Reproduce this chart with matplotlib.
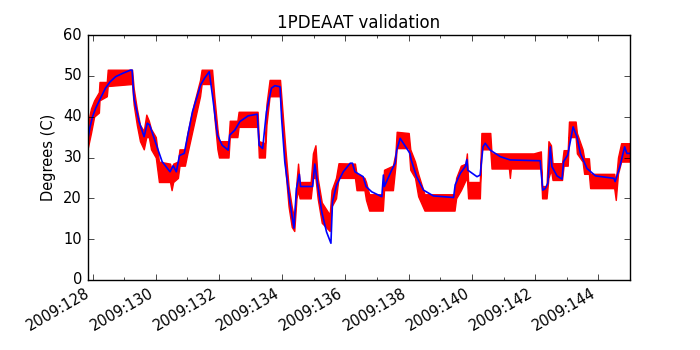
# Importing the libraries
import numpy as np
import matplotlib
matplotlib.use('Agg')
import matplotlib.pyplot as plt
from matplotlib.ticker import MultipleLocator, FuncFormatter

# Telemetry (red): envelope of the noisy data, day of year 2009
data_day = [127.84, 127.95, 128.05, 128.2, 128.22, 128.45, 128.48, 129.25, 129.3, 129.4,
            129.5, 129.62, 129.7, 129.78, 129.85, 130.0, 130.1, 130.45, 130.5, 130.55,
            130.7, 130.75, 130.92, 131.0, 131.2, 131.4, 131.45, 131.78, 131.85, 131.95,
            132.0, 132.3, 132.34, 132.58, 132.62, 133.22, 133.26, 133.45, 133.5, 133.6,
            133.93, 134.0, 134.1, 134.2, 134.3, 134.38, 134.45, 134.5, 134.55, 134.9,
            134.97, 135.05, 135.12, 135.25, 135.5, 135.56, 135.7, 135.78, 136.3, 136.35,
            136.6, 136.65, 136.75, 137.18, 137.22, 137.5, 137.58, 137.62, 138.0, 138.05,
            138.2, 138.3, 138.5, 139.45, 139.5, 139.65, 139.8, 139.84, 139.88, 140.25,
            140.3, 140.58, 140.62, 141.17, 141.2, 141.23, 141.95, 142.18, 142.22, 142.36,
            142.42, 142.5, 142.55, 142.85, 142.9, 143.03, 143.07, 143.28, 143.32, 143.5,
            143.55, 143.7, 143.74, 144.5, 144.55, 144.62, 144.72, 145.0]
data_lo = [32, 36, 40, 41, 44, 45, 47.5, 48, 43, 38,
           34, 32, 35, 35, 32, 30, 24, 24, 22, 24,
           25, 28, 28, 31, 38, 45, 48, 48, 40, 32,
           30, 30, 35, 35, 37.5, 37.5, 30, 30, 38, 45,
           45, 38, 27, 18, 13, 12, 20, 22, 20, 20,
           25, 25, 20, 14, 12, 18, 20, 25, 25, 22,
           22, 19.6, 17, 17, 22, 22, 28, 32.3, 32.3, 27,
           25, 20.5, 17, 17, 20, 22, 24.5, 25, 20, 20,
           32, 32, 27.3, 27.3, 25, 27.3, 27.3, 27.3, 20, 20,
           25, 27, 24.5, 24.5, 28, 28, 35, 35, 31, 29,
           26, 26, 22.5, 22.5, 19.6, 26, 29, 29]
data_hi = [38, 42, 44, 46, 48.5, 48.5, 51.5, 51.5, 47, 42,
           38, 36.5, 40.5, 39, 37, 35, 29, 28.5, 27, 28.5,
           29, 32, 32, 36, 43, 49, 51.5, 51.5, 45, 37,
           34, 34, 39, 39, 41.2, 41.2, 34, 33.5, 43, 49,
           49, 42, 32, 23, 18, 15, 24, 28.5, 24, 24,
           31, 33, 25, 19, 16, 22, 25, 28.6, 28.5, 26,
           25, 24, 21, 21, 27, 28, 31, 36.3, 36, 32,
           29, 26, 21, 21, 25, 28, 28.5, 31, 24, 24,
           36, 36, 31, 31, 31, 31, 31, 31.5, 23, 23,
           34, 33, 28.6, 28.6, 31.8, 31.8, 38.8, 38.8, 36, 32,
           29.8, 29.8, 26, 26, 24, 30, 33.5, 33.5]

# Model prediction (blue)
model_day = [127.84, 127.92, 128.0, 128.1, 128.25, 128.41, 128.55, 128.73, 128.95, 129.2,
             129.25, 129.31, 129.47, 129.63, 129.73, 129.8, 129.87, 130.0, 130.2, 130.45,
             130.55, 130.65, 130.75, 130.9, 130.95, 131.16, 131.42, 131.55, 131.69, 131.79,
             131.95, 132.1, 132.29, 132.34, 132.5, 132.66, 132.92, 133.21, 133.27, 133.38,
             133.5, 133.66, 133.77, 133.93, 133.98, 134.08, 134.24, 134.37, 134.45, 134.54,
             134.58, 134.96, 135.03, 135.14, 135.25, 135.4, 135.54, 135.59, 135.72, 135.93,
             136.15, 136.22, 136.3, 136.56, 136.65, 136.83, 137.15, 137.2, 137.23, 137.46,
             137.57, 137.62, 137.73, 137.83, 138.04, 138.08, 138.25, 138.47, 138.78, 139.42,
             139.47, 139.63, 139.79, 139.84, 139.87, 140.16, 140.26, 140.35, 140.42, 140.58,
             140.9, 141.21, 142.16, 142.24, 142.32, 142.4, 142.48, 142.53, 142.69, 142.85,
             142.9, 143.03, 143.2, 143.32, 143.43, 143.64, 143.91, 144.49, 144.53, 144.68,
             144.83, 144.9, 145.0]
model_val = [34, 37.5, 40, 42.1, 44.5, 47.0, 48.5, 49.8, 50.6, 51.4,
             51.4, 44.5, 38.8, 35.1, 38.4, 38.0, 36.5, 33.5, 29.0, 26.5,
             28.0, 26.5, 30.5, 31.0, 33, 41.2, 47.8, 49.5, 51.0, 45.3,
             35.5, 33.0, 31.8, 35.5, 36.7, 38.8, 40.2, 40.6, 33, 32.2,
             41.2, 47, 47.6, 47.3, 39.6, 29, 19.2, 12.7, 22.4, 25.9,
             22.9, 22.9, 28.4, 22.4, 16.7, 11.8, 9.0, 19.2, 23.3, 26.5,
             28.6, 28.6, 26.5, 25.3, 22.9, 21.6, 20.4, 25.7, 22.9, 26.9,
             28.6, 31.8, 34.7, 33.5, 31.0, 29.4, 25.3, 22.0, 20.6, 20.2,
             23.3, 26.1, 27.8, 29.5, 26.9, 25.3, 25.7, 32.6, 33.5, 31.8,
             30.2, 29.4, 29.2, 22.0, 22.4, 23.7, 32.6, 27.8, 25.5, 24.7,
             29, 30.6, 37.5, 35.1, 31.0, 27.3, 25.5, 24.9, 24.1, 27.8,
             32.6, 31, 31]

plt.style.use('classic')
fig = plt.figure(figsize=(7, 3.5), dpi=100, facecolor='white')
ax = fig.add_subplot(111)

# Visualising the results
ax.fill_between(data_day, data_lo, data_hi, color='r', linewidth=1.0, edgecolor='r')
ax.plot(model_day, model_val, color='b', linewidth=1.2)

ax.set_xlim(127.84, 145.0)
ax.set_ylim(0, 60)
ax.xaxis.set_major_locator(MultipleLocator(2))
ax.xaxis.set_minor_locator(MultipleLocator(1))
ax.xaxis.set_major_formatter(FuncFormatter(lambda x, pos: '2009:%03d' % int(round(x))))
ax.tick_params(labelsize=10.5)
ax.set_title('1PDEAAT validation', fontsize=12)
ax.set_ylabel('Degrees (C)', fontsize=10.5)

fig.subplots_adjust(left=0.125, right=0.9, bottom=0.2, top=0.9)
for lbl in ax.get_xticklabels():
    lbl.set_rotation(30)
    lbl.set_ha('right')

fig.savefig('out.png', dpi=100, facecolor='white')
